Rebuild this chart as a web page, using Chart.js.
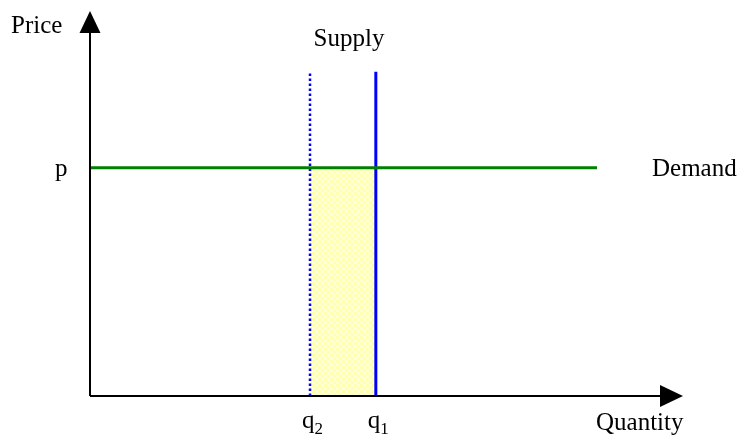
<!DOCTYPE html>
<html>
<head>
<meta charset="utf-8">
<script src="https://cdn.jsdelivr.net/npm/chart.js@4"></script>
<style>
body{margin:0;background:#fff}
#wrap{width:740px;height:436px;position:relative}
</style>
</head>
<body>
<div id="wrap"><canvas id="chart"></canvas></div>
<script>
// quantities on the x axis, price on the y axis (0..100 units)
let quantityLabels=["q2","q1"]
let quantityValues=[37.1,48.2]
let priceLabel="p"
let priceValue=59.3
let demandEnd=85.5
let supplyTop=84.2
let axisTitles=["Quantity","Price"]
let curveNames=["Supply","Demand"]

const serif='"Liberation Serif","DejaVu Serif",serif'

/* light checker fill for the shaded area */
function checker(){
let p=document.createElement('canvas')
p.width=6
p.height=6
let g=p.getContext('2d')
g.fillStyle='#ffffd8'
g.fillRect(0,0,6,6)
g.fillStyle='#ffffb0'
g.fillRect(0,0,3,3)
g.fillRect(3,3,3,3)
return g.createPattern(p,'repeat')
}

/* axes with arrows and the text labels */
const sketch={
id:'sketch',
afterDatasetsDraw(chart){
const c=chart.ctx
const a=chart.chartArea
c.save()
c.strokeStyle='#000'
c.fillStyle='#000'
c.lineWidth=2
c.beginPath()
c.moveTo(a.left,a.bottom)
c.lineTo(a.left,a.top+18)
c.moveTo(a.left,a.bottom)
c.lineTo(a.right-20,a.bottom)
c.stroke()
// arrow heads
c.beginPath()
c.moveTo(a.left,a.top)
c.lineTo(a.left-10.5,a.top+22)
c.lineTo(a.left+10.5,a.top+22)
c.closePath()
c.fill()
c.beginPath()
c.moveTo(a.right,a.bottom)
c.lineTo(a.right-23,a.bottom-11)
c.lineTo(a.right-23,a.bottom+11)
c.closePath()
c.fill()
c.restore()
},
afterDraw(chart){
const c=chart.ctx
const x=chart.scales.x
const y=chart.scales.y
c.save()
c.fillStyle='#000'
c.font='25px '+serif
c.textBaseline='alphabetic'
c.textAlign='left'
c.fillText(axisTitles[1],11,33)
c.fillText(axisTitles[0],596,430)
c.fillText(priceLabel,55,y.getPixelForValue(priceValue)+8)
c.fillText(curveNames[1],652,y.getPixelForValue(priceValue)+8)
c.textAlign='center'
c.fillText(curveNames[0],349,46)
// q labels with subscripts
quantityLabels.forEach((lab,i)=>{
let px=x.getPixelForValue(quantityValues[i])
c.textAlign='left'
c.font='25px '+serif
c.fillText(lab[0],px-8,428)
let w=c.measureText(lab[0]).width
c.font='17px '+serif
c.fillText(lab.slice(1),px-8+w,434)
})
c.restore()
}
}

new Chart(document.getElementById('chart'),{
type:'scatter',
data:{
datasets:[
{
// demand
data:[{x:0,y:priceValue},{x:demandEnd,y:priceValue}],
showLine:true,
borderColor:'#008000',
borderWidth:3,
pointRadius:0
},
{
// supply q1
data:[{x:quantityValues[1],y:0},{x:quantityValues[1],y:supplyTop}],
showLine:true,
borderColor:'#0000ff',
borderWidth:3,
pointRadius:0
},
{
// shifted supply q2
data:[{x:quantityValues[0],y:0},{x:quantityValues[0],y:supplyTop}],
showLine:true,
borderColor:'#0000ff',
borderWidth:2.5,
borderDash:[2.5,2.5],
pointRadius:0
},
{
// shaded area between q2 and q1 under the price
data:[{x:quantityValues[0],y:priceValue},{x:quantityValues[1],y:priceValue}],
showLine:true,
fill:'origin',
backgroundColor:checker(),
borderWidth:0,
borderColor:'rgba(0,0,0,0)',
pointRadius:0
}
]
},
options:{
responsive:true,
maintainAspectRatio:false,
animation:false,
layout:{padding:{left:90,right:57,top:11,bottom:40}},
scales:{
x:{type:'linear',min:0,max:100,display:false},
y:{type:'linear',min:0,max:100,display:false}
},
plugins:{
legend:{display:false},
tooltip:{enabled:false},
filler:{drawTime:'beforeDatasetsDraw'}
}
},
plugins:[sketch]
})
</script>
</body>
</html>
